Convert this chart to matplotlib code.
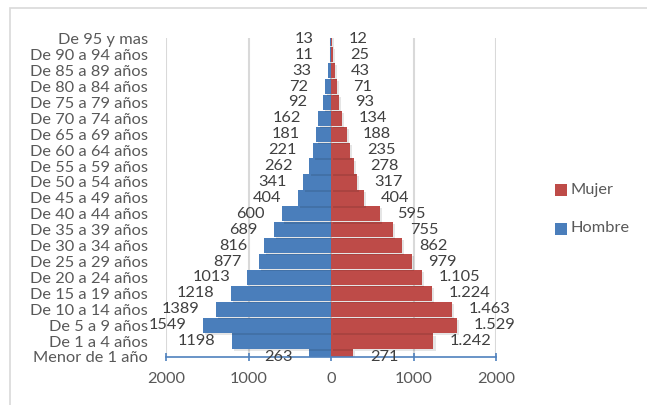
import matplotlib
matplotlib.use("Agg")
import matplotlib.pyplot as plt
import matplotlib.patheffects as pe
from matplotlib.patches import Rectangle

categories = ["Menor de 1 año", "De 1 a 4 años", "De 5 a 9 años", "De 10 a 14 años",
              "De 15 a 19 años", "De 20 a 24 años", "De 25 a 29 años", "De 30 a 34 años",
              "De 35 a 39 años", "De 40 a 44 años", "De 45 a 49 años", "De 50 a 54 años",
              "De 55 a 59 años", "De 60 a 64 años", "De 65 a 69 años", "De 70 a 74 años",
              "De 75 a 79 años", "De 80 a 84 años", "De 85 a 89 años", "De 90 a 94 años",
              "De 95 y mas"]
hombre = [263, 1198, 1549, 1389, 1218, 1013, 877, 816, 689, 600, 404, 341,
          262, 221, 181, 162, 92, 72, 33, 11, 13]
mujer = [271, 1242, 1529, 1463, 1224, 1105, 979, 862, 755, 595, 404, 317,
         278, 235, 188, 134, 93, 71, 43, 25, 12]
xticks = [-2000, -1000, 0, 1000, 2000]
xticklabels = ["2000", "1000", "0", "1000", "2000"]

FONT = "Lato"
FS = 11.8
TXT = "#595959"
LBL = "#404040"
BLUE = "#4A7EBB"
RED = "#BE4B48"

W, H = 647, 405
fig = plt.figure(figsize=(W / 100, H / 100), dpi=100)
fig.patch.set_facecolor("white")

# chart frame
fig.add_artist(Rectangle((10 / W, -0.1), 1.2, 1 - 8 / H + 0.1, transform=fig.transFigure,
                         fill=False, edgecolor="#D9D9D9", linewidth=1.2))

left, right, top, bottom = 166, 496, 38, 357
ax = fig.add_axes([left / W, 1 - bottom / H, (right - left) / W, (bottom - top) / H])

y = list(range(len(categories)))
shadow = [pe.SimplePatchShadow(offset=(1.5, -1.5), shadow_rgbFace="#000000", alpha=0.10), pe.Normal()]
hb = ax.barh(y, [-v for v in hombre], height=0.96, color=BLUE, zorder=3)
mb = ax.barh(y, mujer, height=0.96, color=RED, zorder=3)
for b in list(hb) + list(mb):
    b.set_path_effects(shadow)

ax.set_xlim(-2000, 2000)
ax.set_ylim(0, 20.05)
ax.set_xticks(xticks)
ax.set_xticklabels(xticklabels, fontsize=FS, color=TXT, family=FONT)
ax.set_yticks(y)
ax.set_yticklabels(categories, fontsize=FS, color=TXT, family=FONT)
ax.tick_params(axis="y", length=0, pad=13)
ax.tick_params(axis="x", direction="inout", length=6, width=1.2, color="#4F81BD", pad=8)

for s in ["left", "right", "top"]:
    ax.spines[s].set_visible(False)
ax.spines["bottom"].set_color("#4F81BD")
ax.spines["bottom"].set_linewidth(1.2)
ax.spines["bottom"].set_zorder(5)

ax.xaxis.grid(True, color="#D9D9D9", linewidth=1.5, zorder=0)
ax.set_axisbelow(True)

def fmt_dot(v):
    return f"{v:,}".replace(",", ".")

for yi, v in zip(y, hombre):
    ax.annotate(str(v), xy=(-v, yi), xytext=(-12, 0), textcoords="offset points",
                ha="right", va="center", fontsize=FS, color=LBL, family=FONT,
                annotation_clip=False, zorder=6)
for yi, v in zip(y, mujer):
    ax.annotate(fmt_dot(v), xy=(v, yi), xytext=(12, 0), textcoords="offset points",
                ha="left", va="center", fontsize=FS, color=LBL, family=FONT,
                annotation_clip=False, zorder=6)

# legend
for (lab, col, cy) in [("Mujer", RED, 190), ("Hombre", BLUE, 228.5)]:
    fig.add_artist(Rectangle((555 / W, 1 - (cy + 6) / H), 12 / W, 12 / H,
                             transform=fig.transFigure, facecolor=col, edgecolor="none"))
    fig.text(571 / W, 1 - cy / H, lab, ha="left", va="center", fontsize=FS,
             color=TXT, family=FONT)

fig.savefig("out.png", dpi=100)
